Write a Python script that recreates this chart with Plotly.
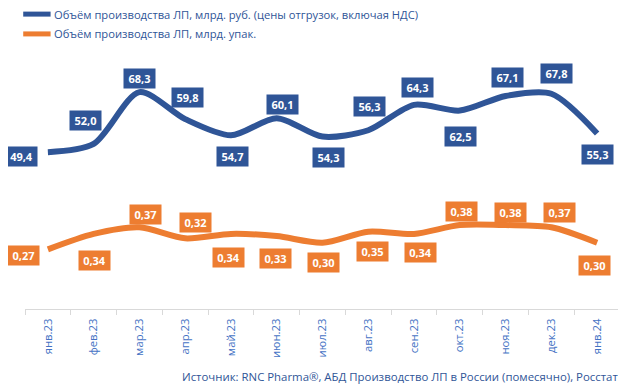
import plotly.graph_objects as go

months = ["янв.23", "фев.23", "мар.23", "апр.23", "май.23", "июн.23", "июл.23",
          "авг.23", "сен.23", "окт.23", "ноя.23", "дек.23", "янв.24"]
rub_bn = [49.4, 52.0, 68.3, 59.8, 54.7, 60.1, 54.3, 56.3, 64.3, 62.5, 67.1, 67.8, 55.3]
packs_bn = [0.27, 0.34, 0.37, 0.32, 0.34, 0.33, 0.30, 0.35, 0.34, 0.38, 0.38, 0.37, 0.30]

name_rub = "Объём производства ЛП, млрд. руб. (цены отгрузок, включая НДС)"
name_packs = "Объём производства ЛП, млрд. упак."
source = "Источник: RNC Pharma®, АБД Производство ЛП в России (помесячно), Росстат"

BLUE = "#2F5597"
ORANGE = "#ED7D31"
TXT = "#2F5597"
FONT = "Open Sans"

# label offsets (pixels) for the data-label boxes
rub_dx = [-26, -8, 0, 2, 2, 6, 6, 1, 3, 1, 2, 5, 0]
rub_dy = [-4, 23, 14, 22, -21, 14, -21, 24, 17, -26, 18, 20, -21]
pk_dx = [-24, 1, 6, 10, -2, -1, 1, 4, 6, 2, 5, 8, -3]
pk_dy = [-6, -27, 13, 16, -24, -22, -20, -20, -19, 14, 13, 15, -23]

fig = go.Figure()
fig.add_trace(go.Scatter(x=months, y=rub_bn, name=name_rub, mode="lines",
                         line=dict(color=BLUE, width=6, shape="spline", smoothing=0.8),
                         yaxis="y", showlegend=False))
fig.add_trace(go.Scatter(x=months, y=packs_bn, name=name_packs, mode="lines",
                         line=dict(color=ORANGE, width=6, shape="spline", smoothing=0.8),
                         yaxis="y2", showlegend=False))

for i, m in enumerate(months):
    fig.add_annotation(x=m, y=rub_bn[i], yref="y", text=f"{rub_bn[i]:.1f}".replace(".", ","),
                       showarrow=False, xshift=rub_dx[i], yshift=rub_dy[i],
                       bgcolor=BLUE, font=dict(color="white", size=11, family=FONT, weight="bold"),
                       width=25, height=13, borderpad=3)
    fig.add_annotation(x=m, y=packs_bn[i], yref="y2", text=f"{packs_bn[i]:.2f}".replace(".", ","),
                       showarrow=False, xshift=pk_dx[i], yshift=pk_dy[i],
                       bgcolor=ORANGE, font=dict(color="white", size=11, family=FONT, weight="bold"),
                       width=25, height=13, borderpad=3)

# manual legend
for name, col, yy in [(name_rub, BLUE, 1.161), (name_packs, ORANGE, 1.083)]:
    fig.add_shape(type="line", xref="paper", yref="paper", x0=-0.003, x1=0.043, y0=yy, y1=yy,
                  line=dict(color=col, width=5))
    fig.add_annotation(xref="paper", yref="paper", x=0.045, y=yy, xanchor="left", yanchor="middle",
                       text=name, showarrow=False, font=dict(color=TXT, size=11.2, family=FONT))

fig.add_annotation(xref="paper", yref="paper", x=1, y=-0.264, xanchor="right", yanchor="middle",
                   text=source, showarrow=False, font=dict(color=TXT, size=11.4, family=FONT))

# page body adds 8px offset; figure sized to fill the remaining window
fig.update_layout(
    width=618, height=381,
    margin=dict(l=17, r=6, t=47, b=80),
    paper_bgcolor="white", plot_bgcolor="white",
    font=dict(family=FONT, color=TXT, size=11),
    showlegend=False,
    xaxis=dict(type="category", range=[-0.5, 12.5], showgrid=False, showline=True,
               linecolor="#D9D9D9", linewidth=1, ticks="outside", tickson="boundaries",
               ticklen=5, tickcolor="#D9D9D9", tickangle=-90, automargin=False,
               ticklabelstandoff=4,
               tickfont=dict(size=11.3, color="#4472C4", family=FONT)),
    yaxis=dict(range=[0, 80], visible=False, showgrid=False, zeroline=False, automargin=False),
    yaxis2=dict(range=[0, 1.15], overlaying="y", visible=False, showgrid=False, zeroline=False,
                automargin=False),
)

fig.write_html("out.html")
